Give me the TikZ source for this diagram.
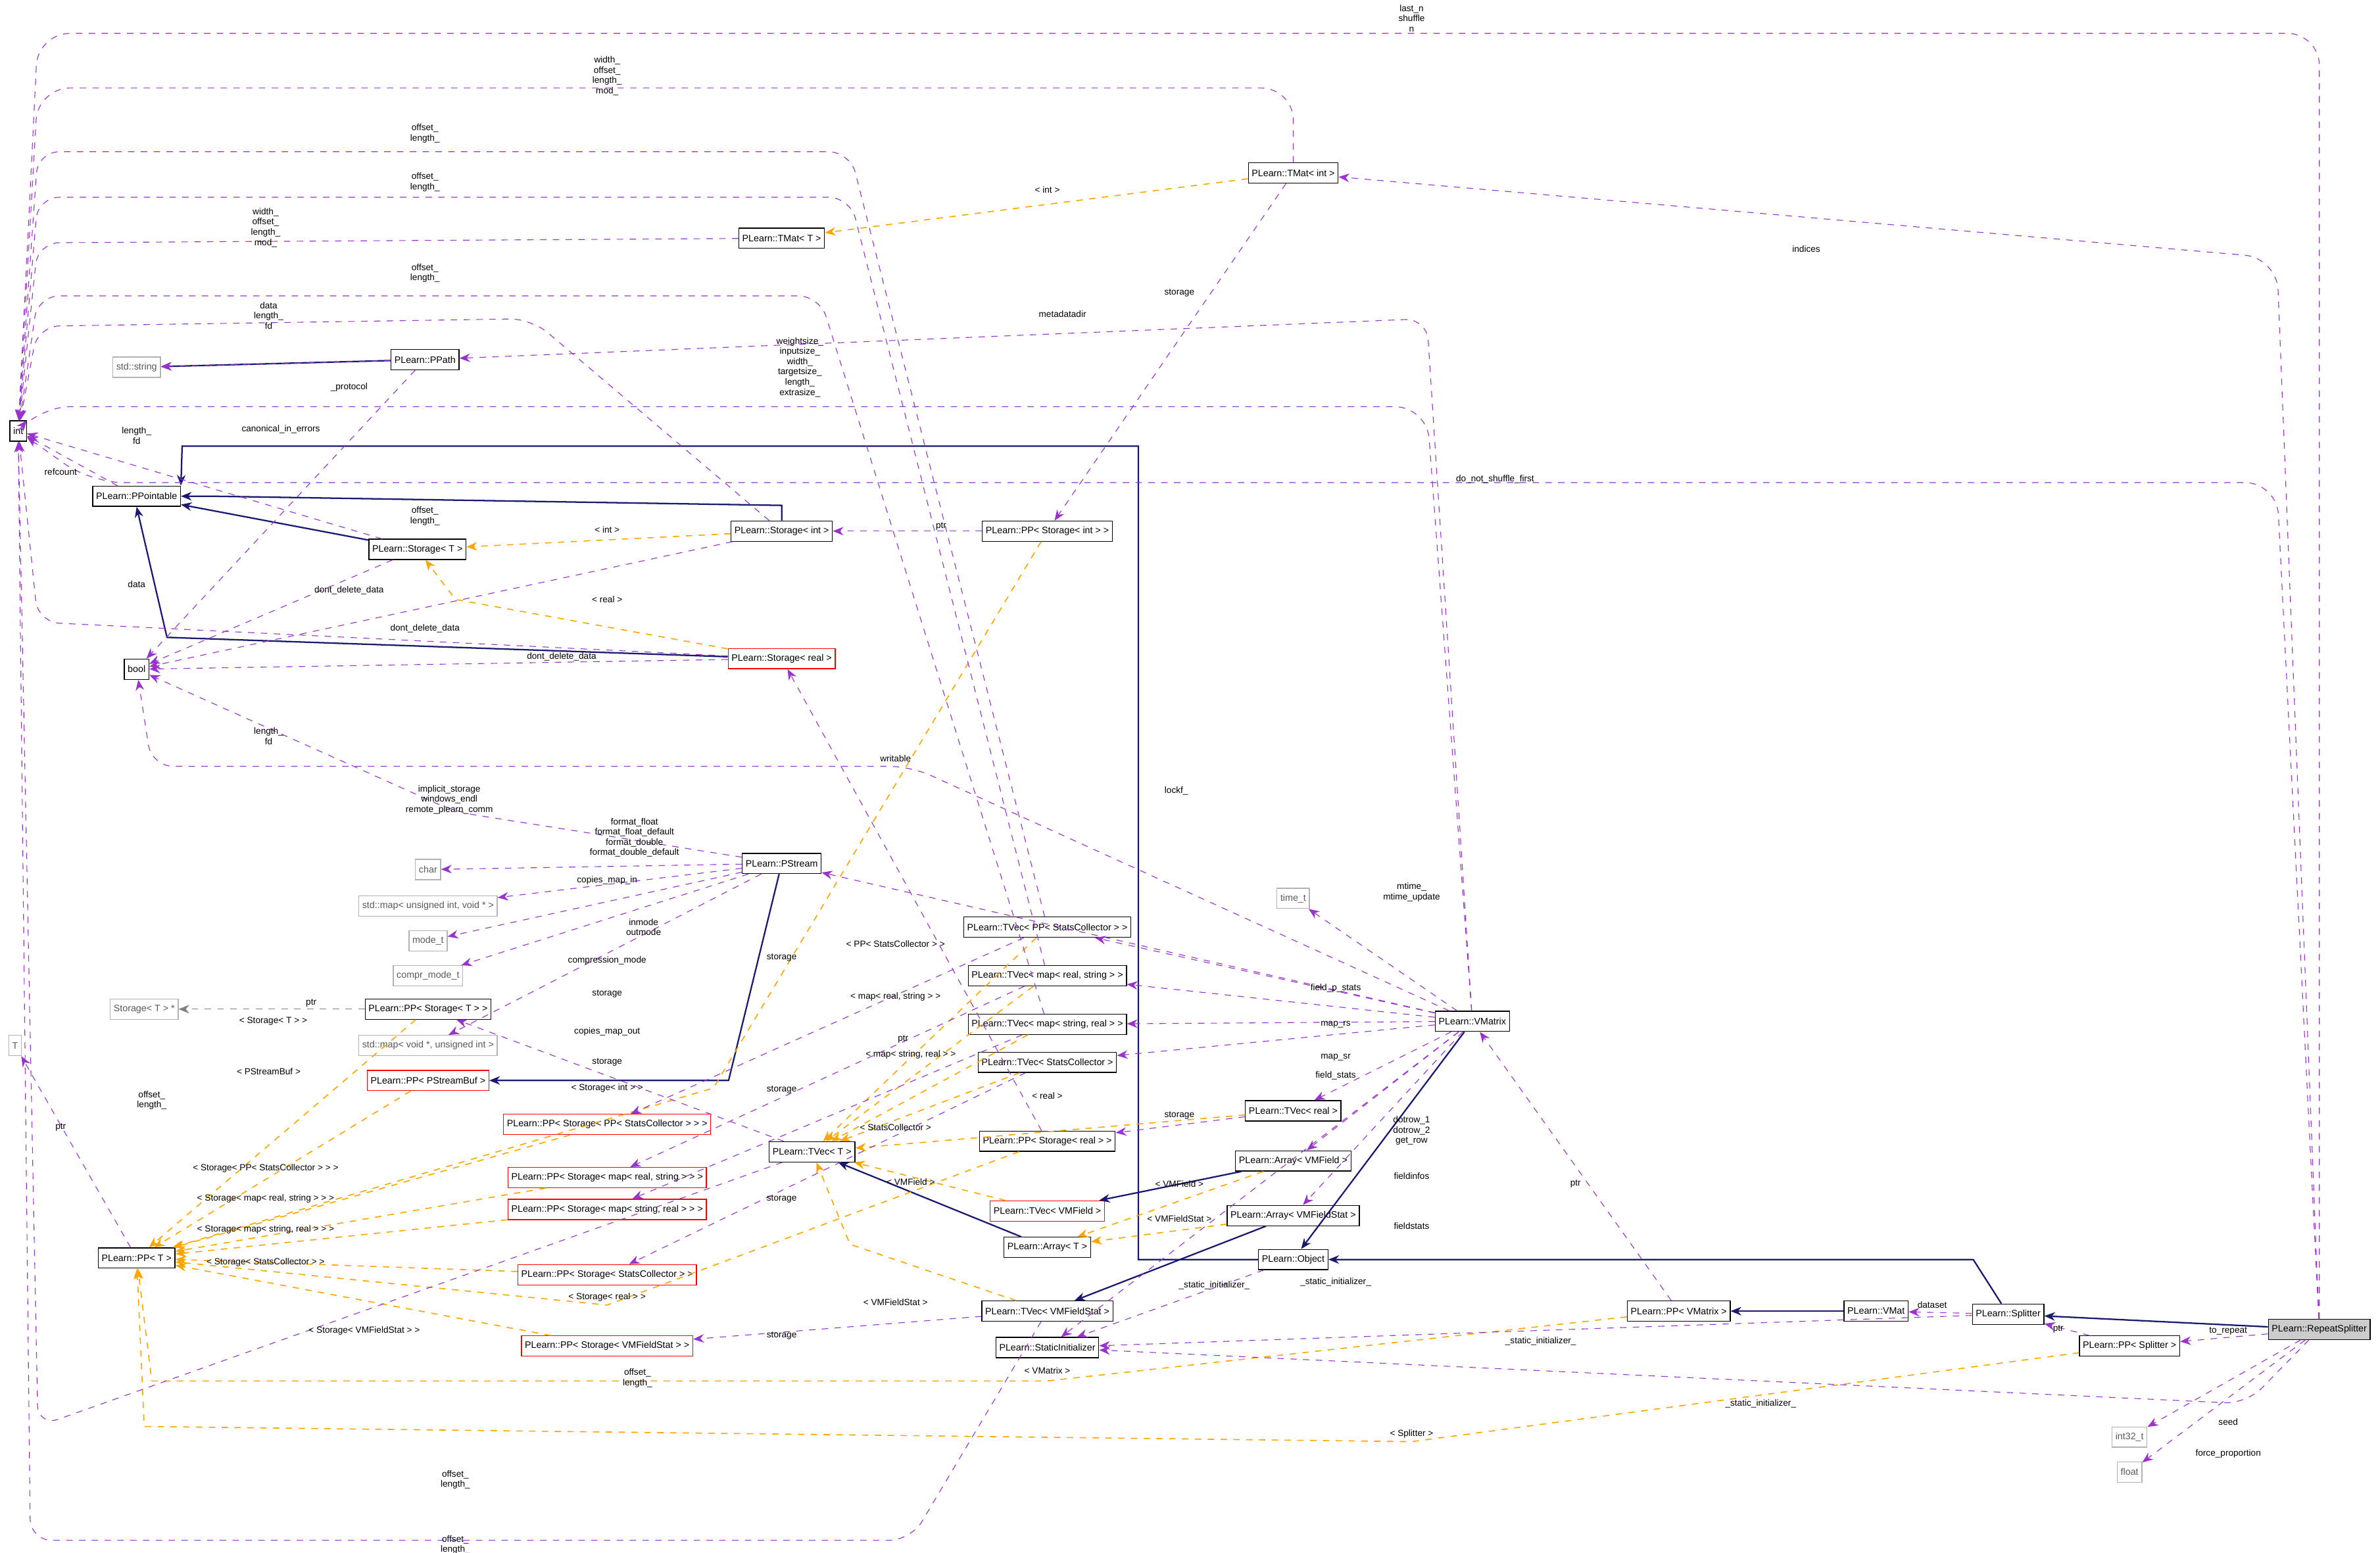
\documentclass[tikz,border=0pt]{standalone}
\usepackage{fontspec}
\setmainfont{Liberation Sans}
\usetikzlibrary{arrows.meta}
\definecolor{usecol}{HTML}{9A32CD}
\definecolor{tplcol}{HTML}{FFA500}
\definecolor{inhcol}{HTML}{191970}
\tikzset{
  cls/.style={draw, fill=white, inner sep=1.6pt, minimum height=9.5, font=\fontsize{4.4}{5}\selectfont},
  ext/.style={cls, draw=gray!60, text=gray!70!black},
  red/.style={cls, draw=red},
  hot/.style={cls, fill=gray!40},
  lbl/.style={inner sep=0pt, align=center, font=\fontsize{4.2}{4.8}\selectfont},
  usedge/.style={draw=usecol, dashed, -{Stealth[length=5pt,width=4pt]}, line width=0.35pt},
  tmpl/.style={draw=tplcol, dashed, -{Stealth[length=5pt,width=4pt]}, line width=0.5pt},
  inh/.style={draw=inhcol, -{Stealth[length=5pt,width=4pt]}, line width=0.7pt},
  grayuse/.style={draw=gray, dashed, -{Stealth[length=5pt,width=4pt]}, line width=0.35pt}
}
\begin{document}
\begin{tikzpicture}[x=0.025cm, y=-0.025cm]
\useasboundingbox (0,0) rectangle (1568,1023);
% classes
\node (int) at (12,284) [cls] {int};
\node (pptbl) at (90,327) [cls] {PLearn::PPointable};
\node (str) at (90,242) [ext] {std::string};
\node (ppath) at (280,237) [cls] {PLearn::PPath};
\node (bool) at (90,441) [cls] {bool};
\node (tT) at (10,689) [ext] {T};
\node (ppT) at (90,829) [cls] {PLearn::PP< T >};
\node (stT) at (275,362) [cls] {PLearn::Storage< T >};
\node (stInt) at (515,350) [cls] {PLearn::Storage< int >};
\node (stReal) at (515,434) [red] {PLearn::Storage< real >};
\node (pstream) at (515,569) [cls] {PLearn::PStream};
\node (chr) at (282,573) [ext] {char};
\node (mapin) at (282,597) [ext] {std::map< unsigned int, void * >};
\node (modet) at (282,620) [ext] {mode\_t};
\node (compr) at (282,643) [ext] {compr\_mode\_t};
\node (stTp) at (95,665) [ext] {Storage< T > *};
\node (ppStT) at (282,665) [cls] {PLearn::PP< Storage< T > >};
\node (mapout) at (282,689) [ext] {std::map< void *, unsigned int >};
\node (ppBuf) at (282,712) [red] {PLearn::PP< PStreamBuf >};
\node (ppStPPSC) at (400,741) [red] {PLearn::PP< Storage< PP< StatsCollector > > >};
\node (ppStMRS) at (400,776) [red] {PLearn::PP< Storage< map< real, string > > >};
\node (ppStMSR) at (400,797) [red] {PLearn::PP< Storage< map< string, real > > >};
\node (ppStSC) at (400,840) [red] {PLearn::PP< Storage< StatsCollector > >};
\node (ppStVFS) at (400,887) [red] {PLearn::PP< Storage< VMFieldStat > >};
\node (tmT) at (515,157) [cls] {PLearn::TMat< T >};
\node (tmInt) at (852,114) [cls] {PLearn::TMat< int >};
\node (ppStInt) at (690,350) [cls] {PLearn::PP< Storage< int > >};
\node (tvPPSC) at (690,611) [cls] {PLearn::TVec< PP< StatsCollector > >};
\node (tvMRS) at (690,643) [cls] {PLearn::TVec< map< real, string > >};
\node (tvMSR) at (690,675) [cls] {PLearn::TVec< map< string, real > >};
\node (tvSC) at (690,700) [cls] {PLearn::TVec< StatsCollector >};
\node (ppStReal) at (690,752) [cls] {PLearn::PP< Storage< real > >};
\node (tvT) at (535,759) [cls] {PLearn::TVec< T >};
\node (tvVF) at (690,798) [red] {PLearn::TVec< VMField >};
\node (arT) at (690,822) [cls] {PLearn::Array< T >};
\node (tvVFS) at (690,864) [cls] {PLearn::TVec< VMFieldStat >};
\node (sinit) at (690,888) [cls] {PLearn::StaticInitializer};
\node (tvReal) at (852,732) [cls] {PLearn::TVec< real >};
\node (arVF) at (852,765) [cls] {PLearn::Array< VMField >};
\node (arVFS) at (852,801) [cls] {PLearn::Array< VMFieldStat >};
\node (obj) at (852,830) [cls] {PLearn::Object};
\node (timet) at (852,592) [ext] {time\_t};
\node (vmx) at (970,673) [cls] {PLearn::VMatrix};
\node (ppVmx) at (1106,864) [cls] {PLearn::PP< VMatrix >};
\node (vmat) at (1236,864) [cls] {PLearn::VMat};
\node (split) at (1323,866) [cls] {PLearn::Splitter};
\node (ppSplit) at (1403,887) [cls] {PLearn::PP< Splitter >};
\node (rsplit) at (1528,876) [hot] {PLearn::RepeatSplitter};
\node (i32) at (1403,947) [ext] {int32\_t};
\node (flt) at (1403,970) [ext] {float};
% inheritance
\draw[inh] (ppath) -- (str);
\draw[inh] (stT) -- (pptbl);
\draw[inh] (stInt.north) -- ++(0,-10) -- (140,327) -- (pptbl);
\draw[inh] (stReal) -- (110,420) -- (pptbl.south);
\draw[inh] (obj) -- (750,830) -- (750,294) -- (120,294) -- (pptbl.north east);
\draw[inh] (pstream) -- (480,712) -- (ppBuf);
\draw[inh] (arT) -- (tvT);
\draw[inh] (arVF) -- (tvVF);
\draw[inh] (arVFS) -- (tvVFS);
\draw[inh] (vmx) -- (obj);
\draw[inh] (split) -- (1300,830) -- (obj);
\draw[inh] (rsplit) -- (split);
\draw[inh] (vmat) -- (ppVmx);
% template instances
\draw[tmpl] (tmInt) -- (tmT);
\draw[tmpl] (stInt) -- (stT);
\draw[tmpl] (stReal) -- (300,395) -- (stT);
\draw[tmpl] (ppStInt) -- (470,717) -- (ppT);
\draw[tmpl] (ppStT) -- (ppT);
\draw[tmpl] (ppBuf) -- (ppT);
\draw[tmpl] (ppStPPSC) -- (ppT);
\draw[tmpl] (ppStMRS) -- (ppT);
\draw[tmpl] (ppStMSR) -- (ppT);
\draw[tmpl] (ppStSC) -- (ppT);
\draw[tmpl] (ppStReal) -- (400,860) -- (ppT);
\draw[tmpl] (ppStVFS) -- (ppT);
\draw[tmpl] (ppVmx) -- (690,910) -- (100,910) -- (ppT);
\draw[tmpl] (ppSplit) -- (930,950) -- (95,940) -- (ppT);
\draw[tmpl] (tvPPSC) -- (tvT);
\draw[tmpl] (tvMRS) -- (tvT);
\draw[tmpl] (tvMSR) -- (tvT);
\draw[tmpl] (tvSC) -- (tvT);
\draw[tmpl] (tvReal) -- (tvT);
\draw[tmpl] (tvVF) -- (tvT);
\draw[tmpl] (tvVFS) -- (560,820) -- (tvT);
\draw[tmpl] (arVF) -- (arT);
\draw[tmpl] (arVFS) -- (arT);
% usage
\draw[usedge, rounded corners=15] (rsplit) -- (1528,22) -- (25,22) -- (int);
\draw[usedge, rounded corners=15] (tmInt) -- (852,58) -- (25,58) -- (int);
\draw[usedge, rounded corners=10] (tmT) -- (25,160) -- (int);
\draw[usedge, rounded corners=10] (stInt) -- (350,210) -- (25,215) -- (int);
\draw[usedge] (stT) -- (int);
\draw[usedge] (pptbl) -- (int);
\draw[usedge, rounded corners=15] (vmx) -- (940,268) -- (25,268) -- (int);
\draw[usedge, rounded corners=15] (rsplit) -- (1500,318) -- (60,318) -- (int);
\draw[usedge, rounded corners=10] (tvPPSC) -- (560,100) -- (25,100) -- (int);
\draw[usedge, rounded corners=10] (tvMRS) -- (560,130) -- (25,130) -- (int);
\draw[usedge, rounded corners=10] (tvMSR) -- (540,195) -- (25,195) -- (int);
\draw[usedge, rounded corners=10] (tvT) -- (25,940) -- (int);
\draw[usedge, rounded corners=10] (tvVFS) -- (600,1015) -- (20,1015) -- (int);
\draw[usedge, rounded corners=10] (stReal) -- (25,410) -- (int);
\draw[usedge] (ppT) -- (tT);
\draw[usedge] (tmInt) -- (ppStInt);
\draw[usedge] (ppStInt) -- (stInt);
\draw[usedge] (ppStReal) -- (stReal);
\draw[usedge] (stT) -- (bool);
\draw[usedge] (stInt) -- (bool);
\draw[usedge] (stReal) -- (bool);
\draw[usedge] (ppath) -- (str);
\draw[usedge] (ppath) -- (bool);
\draw[usedge, rounded corners=10] (pstream) -- (300,535) -- (bool);
\draw[usedge, rounded corners=10] (vmx) -- (600,505) -- (100,505) -- (bool);
\draw[usedge] (vmx) -- (pstream);
\draw[usedge, rounded corners=10] (vmx) -- (940,210) -- (ppath);
\draw[usedge] (vmx) -- (timet);
\draw[usedge] (vmx) -- (tvPPSC);
\draw[usedge] (vmx) -- (tvMRS);
\draw[usedge] (vmx) -- (tvMSR);
\draw[usedge] (vmx) -- (tvSC);
\draw[usedge] (vmx) -- (tvReal);
\draw[usedge] (vmx) -- (arVF);
\draw[usedge] (vmx) -- (arVFS);
\draw[usedge] (vmx) -- (sinit);
\draw[usedge] (obj) -- (sinit);
\draw[usedge] (split) -- (sinit);
\draw[usedge, rounded corners=10] (rsplit) -- (1480,925) -- (sinit);
\draw[usedge] (ppVmx) -- (vmx);
\draw[usedge] (split) -- (vmat);
\draw[usedge] (ppSplit) -- (split);
\draw[usedge] (rsplit) -- (ppSplit);
\draw[usedge] (rsplit) -- (i32);
\draw[usedge] (rsplit) -- (flt);
\draw[usedge, rounded corners=15] (rsplit) -- (1500,170) -- (tmInt);
\draw[usedge] (pstream) -- (chr);
\draw[usedge] (pstream) -- (mapin);
\draw[usedge] (pstream) -- (modet);
\draw[usedge] (pstream) -- (compr);
\draw[usedge] (pstream) -- (mapout);
\draw[grayuse] (ppStT) -- (stTp);
\draw[usedge] (tvT) -- (ppStT);
\draw[usedge] (tvPPSC) -- (ppStPPSC);
\draw[usedge] (tvMRS) -- (ppStMRS);
\draw[usedge] (tvMSR) -- (ppStMSR);
\draw[usedge] (tvSC) -- (ppStSC);
\draw[usedge] (tvReal) -- (ppStReal);
\draw[usedge] (tvVFS) -- (ppStVFS);
% labels
\node (l1) at (930,12) [lbl] {last\_n\\shuffle\\n};
\node (l2) at (400,50) [lbl] {width\_\\offset\_\\length\_\\mod\_};
\node (l3) at (175,150) [lbl] {width\_\\offset\_\\length\_\\mod\_};
\node (l4) at (280,88) [lbl] {offset\_\\length\_};
\node (l5) at (280,120) [lbl] {offset\_\\length\_};
\node (l6) at (280,180) [lbl] {offset\_\\length\_};
\node (l7) at (177,208) [lbl] {data\\length\_\\fd};
\node (l8) at (527,242) [lbl] {weightsize\_\\inputsize\_\\width\_\\targetsize\_\\length\_\\extrasize\_};
\node (l9) at (90,287) [lbl] {length\_\\fd};
\node (l10) at (40,311) [lbl] {refcount};
\node (l11) at (985,316) [lbl] {do\_not\_shuffle\_first};
\node (l12) at (280,340) [lbl] {offset\_\\length\_};
\node (l13) at (177,485) [lbl] {length\_\\fd};
\node (l14) at (90,385) [lbl] {data};
\node (l15) at (1190,164) [lbl] {indices};
\node (l16) at (690,125) [lbl] {< int >};
\node (l17) at (777,193) [lbl] {storage};
\node (l18) at (620,347) [lbl] {ptr};
\node (l19) at (400,349) [lbl] {< int >};
\node (l20) at (400,395) [lbl] {< real >};
\node (l21) at (230,389) [lbl] {dont\_delete\_data};
\node (l22) at (280,414) [lbl] {dont\_delete\_data};
\node (l23) at (370,433) [lbl] {dont\_delete\_data};
\node (l24) at (700,207) [lbl] {metadatadir};
\node (l25) at (230,255) [lbl] {\_protocol};
\node (l26) at (185,283) [lbl] {canonical\_in\_errors};
\node (l27) at (590,500) [lbl] {writable};
\node (l28) at (775,521) [lbl] {lockf\_};
\node (l29) at (296,527) [lbl] {implicit\_storage\\windows\_endl\\remote\_plearn\_comm};
\node (l30) at (418,552) [lbl] {format\_float\\format\_float\_default\\format\_double\\format\_double\_default};
\node (l31) at (400,580) [lbl] {copies\_map\_in};
\node (l32) at (424,611) [lbl] {inmode\\outmode};
\node (l33) at (400,633) [lbl] {compression\_mode};
\node (l34) at (400,680) [lbl] {copies\_map\_out};
\node (l35) at (205,661) [lbl] {ptr};
\node (l36) at (180,673) [lbl] {< Storage< T > >};
\node (l37) at (177,706) [lbl] {< PStreamBuf >};
\node (l38) at (400,717) [lbl] {< Storage< int > >};
\node (l39) at (175,770) [lbl] {< Storage< PP< StatsCollector > > >};
\node (l40) at (175,790) [lbl] {< Storage< map< real, string > > >};
\node (l41) at (175,810) [lbl] {< Storage< map< string, real > > >};
\node (l42) at (175,832) [lbl] {< Storage< StatsCollector > >};
\node (l43) at (400,855) [lbl] {< Storage< real > >};
\node (l44) at (240,877) [lbl] {< Storage< VMFieldStat > >};
\node (l45) at (690,903) [lbl] {< VMatrix >};
\node (l46) at (930,945) [lbl] {< Splitter >};
\node (l47) at (40,743) [lbl] {ptr};
\node (l48) at (100,725) [lbl] {offset\_\\length\_};
\node (l49) at (400,655) [lbl] {storage};
\node (l50) at (515,631) [lbl] {storage};
\node (l51) at (515,718) [lbl] {storage};
\node (l52) at (515,790) [lbl] {storage};
\node (l53) at (400,700) [lbl] {storage};
\node (l54) at (777,735) [lbl] {storage};
\node (l55) at (515,880) [lbl] {storage};
\node (l56) at (595,685) [lbl] {ptr};
\node (l57) at (590,622) [lbl] {< PP< StatsCollector > >};
\node (l58) at (590,657) [lbl] {< map< real, string > >};
\node (l59) at (600,695) [lbl] {< map< string, real > >};
\node (l60) at (590,743) [lbl] {< StatsCollector >};
\node (l61) at (690,722) [lbl] {< real >};
\node (l62) at (600,779) [lbl] {< VMField >};
\node (l63) at (590,858) [lbl] {< VMFieldStat >};
\node (l64) at (777,780) [lbl] {< VMField >};
\node (l65) at (777,803) [lbl] {< VMFieldStat >};
\node (l66) at (930,588) [lbl] {mtime\_\\mtime\_update};
\node (l67) at (880,651) [lbl] {field\_p\_stats};
\node (l68) at (880,675) [lbl] {map\_rs};
\node (l69) at (880,697) [lbl] {map\_sr};
\node (l70) at (880,709) [lbl] {field\_stats};
\node (l71) at (930,745) [lbl] {dotrow\_1\\dotrow\_2\\get\_row};
\node (l72) at (930,775) [lbl] {fieldinfos};
\node (l73) at (930,808) [lbl] {fieldstats};
\node (l74) at (880,845) [lbl] {\_static\_initializer\_};
\node (l75) at (800,847) [lbl] {\_static\_initializer\_};
\node (l76) at (1015,884) [lbl] {\_static\_initializer\_};
\node (l77) at (1160,925) [lbl] {\_static\_initializer\_};
\node (l78) at (1038,780) [lbl] {ptr};
\node (l79) at (1273,860) [lbl] {dataset};
\node (l80) at (1356,876) [lbl] {ptr};
\node (l81) at (1468,877) [lbl] {to\_repeat};
\node (l82) at (1468,937) [lbl] {seed};
\node (l83) at (1468,958) [lbl] {force\_proportion};
\node (l84) at (420,908) [lbl] {offset\_\\length\_};
\node (l85) at (300,975) [lbl] {offset\_\\length\_};
\node (l86) at (300,1018) [lbl] {offset\_\\length\_};
\end{tikzpicture}
\end{document}
